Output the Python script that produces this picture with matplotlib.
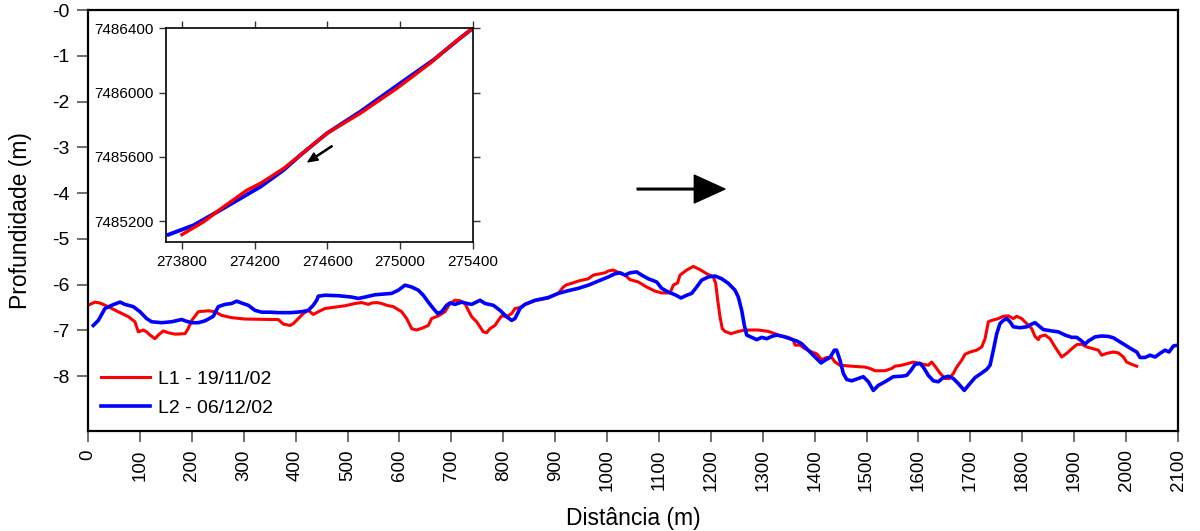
import matplotlib
matplotlib.use("Agg")
import matplotlib.pyplot as plt

plt.rcParams['font.family'] = ['Liberation Sans', 'DejaVu Sans']

# ---- main profile data (distance m, depth m) ----
l1_dist = [0, 13.5, 23, 39, 58, 78, 90.5, 97, 106.6, 113, 119.5, 129, 135.5, 145, 154.8, 167.6, 187, 193, 200,
           212.6, 232, 244.7, 257.5, 276.8, 302.5, 350.6, 366.7, 376.3, 389.2, 395.6, 405.2, 414.8, 424.5, 434,
           443.8, 456.6, 469.5, 495.1, 514.4, 527.3, 540, 546.5, 556.2, 565.8, 575.4, 588.3, 604.3, 614, 623.6,
           633.2, 646, 655.6, 662, 675, 687.8, 697.4, 707, 716.7, 726.3, 732.7, 739.2, 748.8, 755.2, 761.6, 768,
           774.5, 784.1, 790.5, 797, 806.6, 816.2, 822.6, 832.3, 841.9, 861.2, 886.8, 906, 915.7, 922.2, 935,
           944.6, 963.9, 973.5, 986.4, 996, 1002.4, 1012, 1021.7, 1034.6, 1044.2, 1060.2, 1076.3, 1092.4, 1105.3,
           1121.3, 1127.7, 1136, 1140.5, 1153.4, 1166.2, 1179, 1192, 1204.7, 1209.3, 1213.2, 1217.6, 1222, 1227.2,
           1238.8, 1252.9, 1265.8, 1291.4, 1310.7, 1323.6, 1336.4, 1349.2, 1358.9, 1362.1, 1371.7, 1381.4, 1394.2,
           1403.9, 1413.5, 1423.1, 1432.8, 1439.2, 1448.8, 1471.3, 1497, 1506.6, 1516.2, 1535.5, 1548.3, 1554.8,
           1567.6, 1580.4, 1590, 1599.7, 1609.3, 1618.9, 1625.4, 1631.8, 1641.4, 1651.1, 1658.8, 1667.1, 1673.6,
           1683.2, 1689.6, 1699.3, 1712.1, 1721.8, 1728.2, 1734.6, 1741, 1753.8, 1763.4, 1773.1, 1782.7, 1789.2,
           1798.8, 1808.4, 1818.1, 1824.5, 1830.9, 1834.1, 1843.8, 1853.4, 1863, 1875.9, 1885.5, 1895.2, 1904.8,
           1914.4, 1924, 1936.8, 1946.5, 1952.9, 1962.6, 1975.4, 1985, 1994.7, 2001, 2010.8, 2020.4]
l1_depth = [-6.45, -6.38, -6.40, -6.48, -6.59, -6.70, -6.81, -7.03, -6.99, -7.03, -7.10, -7.18, -7.10, -7.01, -7.05,
            -7.08, -7.07, -6.96, -6.78, -6.59, -6.57, -6.59, -6.67, -6.72, -6.75, -6.76, -6.76, -6.86, -6.89, -6.85,
            -6.74, -6.63, -6.56, -6.65, -6.59, -6.52, -6.50, -6.46, -6.41, -6.39, -6.43, -6.40, -6.39, -6.41, -6.45,
            -6.48, -6.59, -6.74, -6.96, -6.99, -6.94, -6.89, -6.74, -6.68, -6.59, -6.41, -6.34, -6.35, -6.41, -6.56,
            -6.70, -6.81, -6.92, -7.03, -7.05, -6.96, -6.89, -6.78, -6.68, -6.70, -6.63, -6.52, -6.50, -6.43, -6.35,
            -6.29, -6.19, -6.05, -6.00, -5.96, -5.92, -5.87, -5.79, -5.76, -5.74, -5.70, -5.68, -5.73, -5.79, -5.89,
            -5.94, -6.05, -6.14, -6.18, -6.18, -6.01, -5.96, -5.79, -5.68, -5.60, -5.67, -5.76, -5.83, -5.97, -6.34,
            -6.70, -6.96, -7.02, -7.07, -7.02, -6.99, -6.99, -7.02, -7.07, -7.13, -7.15, -7.21, -7.32, -7.32, -7.40,
            -7.47, -7.51, -7.64, -7.59, -7.59, -7.69, -7.76, -7.78, -7.80, -7.83, -7.88, -7.88, -7.83, -7.78, -7.76,
            -7.72, -7.69, -7.71, -7.74, -7.76, -7.69, -7.78, -7.93, -8.05, -8.05, -7.94, -7.80, -7.65, -7.52, -7.47,
            -7.43, -7.36, -7.18, -6.81, -6.78, -6.74, -6.69, -6.68, -6.74, -6.69, -6.74, -6.85, -6.96, -7.13, -7.20,
            -7.13, -7.10, -7.18, -7.36, -7.58, -7.50, -7.40, -7.31, -7.30, -7.36, -7.40, -7.43, -7.54, -7.50, -7.47,
            -7.49, -7.58, -7.69, -7.74, -7.78]

l2_dist = [10.3, 19.9, 32.8, 45.6, 61.7, 71.3, 87.4, 100.2, 113, 122.7, 142, 161, 180.5, 190, 199.8, 212.6, 225.4,
           241.5, 251, 264, 276.8, 286.5, 296, 308.8, 321.7, 334.6, 350.6, 366.7, 392.4, 411.6, 424.5, 434, 440.6,
           443.8, 456.6, 482.3, 508, 520.8, 533.7, 552.9, 585, 597.9, 610.7, 623.6, 636.4, 646, 655.6, 665.3, 673.7,
           681.4, 691, 697.4, 707, 720, 726.3, 739.2, 755.2, 764.9, 781, 793.8, 806.6, 816.2, 822.6, 832.3, 841.9,
           861.2, 886.8, 906, 925.4, 944.6, 963.9, 983.2, 1002.4, 1015.3, 1025, 1034.6, 1044.2, 1057, 1066.7, 1079.5,
           1095.6, 1105.3, 1118, 1131, 1142.5, 1153.4, 1163, 1172.7, 1182.3, 1195.1, 1208, 1220.9, 1233.6, 1246.5,
           1252.9, 1259.4, 1264.5, 1269, 1278.7, 1288.3, 1298, 1307.6, 1317.2, 1326.8, 1339.6, 1352.5, 1365.4, 1375,
           1384.6, 1391, 1400.7, 1412.2, 1419.9, 1429.5, 1437.9, 1442.3, 1448.8, 1455.2, 1461.7, 1471.3, 1484.1,
           1493.7, 1503.4, 1513, 1522.6, 1535.5, 1551.5, 1567.6, 1577.3, 1585.6, 1593.3, 1602.9, 1609.3, 1618.9,
           1628.6, 1638.2, 1647.8, 1657.5, 1667.1, 1676.7, 1688.3, 1696, 1708.9, 1721.8, 1731.4, 1737.8, 1744.2,
           1750.7, 1757, 1763.4, 1769.9, 1776.3, 1782.7, 1795.6, 1808.4, 1818.1, 1824.5, 1830.9, 1840.5, 1856.6,
           1869.4, 1882.3, 1895.2, 1904.8, 1914.4, 1920.8, 1927.2, 1940.1, 1952.9, 1965.8, 1975.4, 1988.3, 2001.2,
           2014, 2020.4, 2026.8, 2036.4, 2046.1, 2055.7, 2065.3, 2075, 2082.7, 2091, 2100]
l2_depth = [-6.89, -6.78, -6.52, -6.45, -6.38, -6.43, -6.48, -6.59, -6.74, -6.81, -6.83, -6.81, -6.76, -6.80, -6.83,
            -6.83, -6.79, -6.69, -6.48, -6.43, -6.41, -6.36, -6.40, -6.45, -6.56, -6.60, -6.60, -6.61, -6.61, -6.59,
            -6.56, -6.45, -6.34, -6.25, -6.23, -6.24, -6.27, -6.30, -6.27, -6.22, -6.19, -6.12, -6.01, -6.05, -6.12,
            -6.23, -6.38, -6.52, -6.63, -6.59, -6.45, -6.40, -6.43, -6.38, -6.40, -6.43, -6.34, -6.41, -6.45, -6.56,
            -6.70, -6.78, -6.74, -6.52, -6.43, -6.34, -6.28, -6.19, -6.13, -6.08, -6.01, -5.92, -5.83, -5.76, -5.74,
            -5.79, -5.74, -5.72, -5.79, -5.87, -5.94, -6.08, -6.16, -6.22, -6.29, -6.23, -6.19, -6.05, -5.90, -5.83,
            -5.81, -5.87, -5.97, -6.12, -6.27, -6.56, -6.89, -7.10, -7.15, -7.20, -7.15, -7.18, -7.13, -7.10, -7.13,
            -7.18, -7.23, -7.29, -7.40, -7.47, -7.58, -7.71, -7.65, -7.59, -7.43, -7.43, -7.65, -7.94, -8.07, -8.10,
            -8.05, -8.01, -8.12, -8.31, -8.20, -8.12, -8.01, -8.00, -7.98, -7.87, -7.74, -7.72, -7.80, -7.98, -8.10,
            -8.12, -8.03, -8.00, -8.05, -8.16, -8.31, -8.20, -8.03, -7.93, -7.85, -7.76, -7.43, -7.07, -6.85, -6.78,
            -6.74, -6.81, -6.92, -6.94, -6.92, -6.86, -6.83, -6.89, -6.98, -7.01, -7.03, -7.10, -7.15, -7.15, -7.23,
            -7.30, -7.23, -7.14, -7.12, -7.13, -7.16, -7.25, -7.34, -7.43, -7.47, -7.59, -7.59, -7.54, -7.58, -7.50,
            -7.43, -7.47, -7.34, -7.32]

# ---- inset (plan view of the survey lines, UTM) ----
l1_east = [273800, 273919, 274011, 274157, 274231, 274359, 274451, 274597, 274781, 274982, 275165, 275294, 275400]
l1_north = [7485117, 7485196, 7485275, 7485393, 7485435, 7485528, 7485611, 7485746, 7485871, 7486026, 7486182,
            7486307, 7486400]
l2_east = [273727, 273864, 274011, 274231, 274359, 274451, 274597, 274781, 275000, 275184, 275330, 275400]
l2_north = [7485117, 7485175, 7485269, 7485414, 7485518, 7485611, 7485746, 7485881, 7486057, 7486203, 7486338,
            7486400]

x_ticks = list(range(0, 2101, 100))
y_ticks = [0, -1, -2, -3, -4, -5, -6, -7, -8]
y_tick_labels = ['-0', '-1', '-2', '-3', '-4', '-5', '-6', '-7', '-8']
inset_x_ticks = [273800, 274200, 274600, 275000, 275400]
inset_y_ticks = [7485200, 7485600, 7486000, 7486400]

RED = '#ff0000'
BLUE = '#0000ff'

fig = plt.figure(figsize=(12, 5.31), dpi=100)
ax = fig.add_axes([0.0733, 0.188, 0.9084, 0.793])

ax.plot(l1_dist, l1_depth, color=RED, lw=2.2, label='L1 - 19/11/02')
ax.plot(l2_dist, l2_depth, color=BLUE, lw=2.6, label='L2 - 06/12/02')

ax.set_xlim(0, 2100)
ax.set_ylim(-9.2, 0)
ax.set_xticks(x_ticks)
ax.set_xticklabels([str(v) for v in x_ticks], rotation=90, fontsize=13.5)
ax.set_yticks(y_ticks)
ax.set_yticklabels(y_tick_labels, fontsize=14)
ax.tick_params(axis='both', direction='out', length=8, width=1.2, color='#555555', pad=5)
for s in ax.spines.values():
    s.set_linewidth(1.6)
    s.set_color('black')
ax.set_xlabel('Distância (m)', fontsize=16.5, labelpad=11)
ax.set_ylabel('Profundidade (m)', fontsize=16.5, labelpad=15)

ax.legend(loc='lower left', bbox_to_anchor=(0.005, 0.015), frameon=False, fontsize=14,
          handlelength=2.5, handletextpad=0.4, labelspacing=0.6, borderaxespad=0)

# big direction arrow
ax.annotate('', xy=(1227, -3.91), xytext=(1058, -3.91),
            arrowprops=dict(facecolor='black', edgecolor='black', width=1.2, headwidth=20, headlength=22))

# inset
ins = fig.add_axes([0.1383, 0.544, 0.2558, 0.403])
ins.plot(l2_east, l2_north, color=BLUE, lw=2.8)
ins.plot(l1_east, l1_north, color=RED, lw=2.4)
ins.set_xlim(273712, 275400)
ins.set_ylim(7485070, 7486400)
ins.set_xticks(inset_x_ticks)
ins.set_xticklabels([str(v) for v in inset_x_ticks], fontsize=11)
ins.set_yticks(inset_y_ticks)
ins.set_yticklabels([str(v) for v in inset_y_ticks], fontsize=11)
ins.tick_params(axis='both', direction='out', length=5, width=1, color='#333333',
                top=True, right=True, labeltop=False, labelright=False, pad=4)
for s in ins.spines.values():
    s.set_linewidth(1.2)
ins.annotate('', xy=(274493, 7485569), xytext=(274625, 7485667),
             arrowprops=dict(facecolor='black', edgecolor='black', width=0.8, headwidth=6, headlength=7))

fig.savefig('out.png', dpi=100)
